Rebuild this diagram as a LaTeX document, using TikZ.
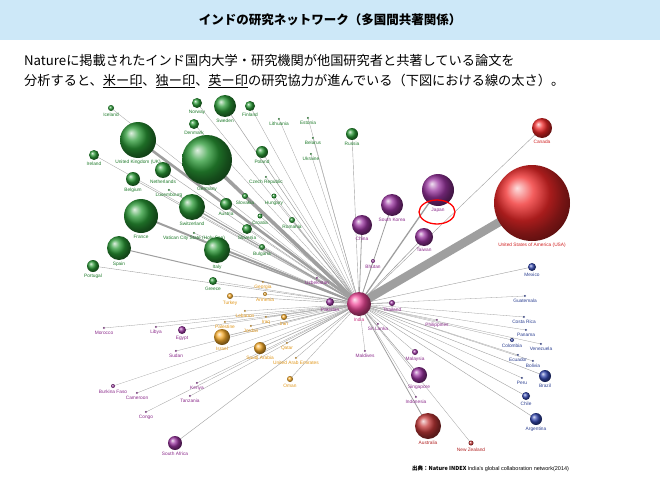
\documentclass[tikz,border=0pt]{standalone}
\usepackage{fontspec}
\setmainfont{Noto Sans CJK JP}
\newfontfamily\lab{Liberation Sans}
\definecolor{G}{HTML}{2A9A36}\definecolor{GT}{HTML}{1E7A2A}
\definecolor{O}{HTML}{F8AC2A}\definecolor{OT}{HTML}{E0961A}
\definecolor{P}{HTML}{9A34A0}\definecolor{PT}{HTML}{8A2A8A}
\definecolor{B}{HTML}{3448B0}\definecolor{BT}{HTML}{2A3E90}
\definecolor{R}{HTML}{F02828}\definecolor{RT}{HTML}{D02020}
\definecolor{A}{HTML}{C43838}\definecolor{AT}{HTML}{B02020}
\definecolor{K}{HTML}{F04898}\definecolor{KT}{HTML}{C83080}
\definecolor{band}{HTML}{CDE8F8}
\tikzset{edge/.style={draw=gray!75},
 ctylabel/.style={font=\lab\fontsize{4.8}{5.5}\selectfont,inner sep=0.3pt,anchor=north}}
\begin{document}
\begin{tikzpicture}[x=1pt,y=-1pt]
\useasboundingbox (0,0) rectangle (660,492);
\fill[band] (0,0) rectangle (660,40);
\node[font=\fontsize{12.5}{14}\selectfont\bfseries] (title) at (330,20) {インドの研究ネットワーク（多国間共著関係）};
\node[anchor=west,align=left,inner sep=0,font=\fontsize{13.2}{20}\selectfont] (body) at (24,71) {Natureに掲載されたインド国内大学・研究機関が他国研究者と共著している論文を\\分析すると、\underline{米ー印}、\underline{独ー印}、\underline{英ー印}の研究協力が進んでいる（下図における線の太さ）。};
\coordinate (india) at (359,304);
\foreach [count=\i] \x/\y/\r/\c/\t/\w in {
111/108/3/G/Iceland/0.3, 197/103/5/G/Norway/0.3, 225/106/11/G/Sweden/0.5, 250/106/5/G/Finland/0.3,
194/124/5/G/Denmark/0.3, 138/140/18/G/United Kingdom (UK)/2.6, 207/160/25/G/Germany/3.6,
94/155/5/G/Ireland/0.3, 163/170/8/G/Netherlands/0.4, 133/179/7/G/Belgium/0.4, 169/190/1.2/G/Luxembourg/0.3,
192/207/13/G/Switzerland/1.2, 226/204/6/G/Austria/0.4, 245/196/3/G/Slovakia/0.3, 266/177/1.2/G/Czech Republic/0.3,
274/196/2.5/G/Hungary/0.3, 260/216/2.5/G/Croatia/0.3, 292/220/3/G/Romania/0.3, 247/229/5/G/Slovenia/0.3,
262/152/6/G/Poland/0.3, 279/119/1.2/G/Lithuania/0.3, 308/118/1.2/G/Estonia/0.3, 313/138/1.2/G/Belarus/0.3,
311/154/1.2/G/Ukraine/0.3, 352/134/6/G/Russia/0.4, 141/216/17/G/France/2, 194/233/1.2/G/Vatican City State (Holy See)/0.3,
217/250/13/G/Italy/1.3, 262/247/3/G/Bulgaria/0.3, 119/248/12/G/Spain/1, 93/266/6/G/Portugal/0.4, 213/281/4/G/Greece/0.3,
263/282/1.2/O/Georgia/0.3, 265/294/2/O/Armenia/0.3, 230/296/3/O/Turkey/0.4, 245/311/1.2/O/Lebanon/0.3,
266/317/1.2/O/Iraq/0.3, 284/317/3/O/Iran/0.4, 225/322/1.2/O/Palestine/0.3, 251/326/1.2/O/Jordan/0.3,
222/337/8/O/Israel/0.5, 260/348/6/O/Saudi Arabia/0.5, 287/343/1.2/O/Qatar/0.3, 296/358/1.2/O/United Arab Emirates/0.3,
290/379/3/O/Oman/0.3,
104/328/1.2/P/Morocco/0.3, 156/327/1.2/P/Libya/0.3, 182/330/4/P/Egypt/0.3, 176/351/1.2/P/Sudan/0.3,
113/386/2/P/Burkina Faso/0.3, 137/393/1.2/P/Cameroon/0.3, 197/383/1.2/P/Kenya/0.3, 190/396/1.2/P/Tanzania/0.3,
146/412/1.2/P/Congo/0.3, 175/443/7/P/South Africa/0.4, 330/302/4/P/Pakistan/0.4, 317/278/1.2/P/Uzbekistan/0.3,
373/261/2/P/Bhutan/0.3, 362/225/10/P/China/0.8, 392/205/11/P/South Korea/0.8, 438/190/16/P/Japan/1.3,
424/237/9/P/Taiwan/0.6, 392/303/3/P/Thailand/0.4, 378/324/1.2/P/Sri Lanka/0.3, 365/351/1.2/P/Maldives/0.3,
437/320/1.2/P/Philippines/0.3, 415/352/3/P/Malaysia/0.3, 419/375/8/P/Singapore/0.5, 416/397/1.2/P/Indonesia/0.3,
428/426/13/A/Australia/0.8, 471/443/2.5/A/New Zealand/0.3,
532/267/4/B/Mexico/0.4, 525/296/1.2/B/Guatemala/0.3, 524/317/1.2/B/Costa Rica/0.3, 526/330/1.2/B/Panama/0.3,
512/340/2/B/Colombia/0.3, 541/344/1.2/B/Venezuela/0.3, 518/355/1.2/B/Ecuador/0.3, 533/361/1.2/B/Bolivia/0.3,
522/378/1.2/B/Peru/0.3, 545/376/6/B/Brazil/0.4, 526/396/4/B/Chile/0.4, 536/419/6/B/Argentina/0.4,
542/128/10/R/Canada/0.4, 532/203/38/R/United States of America (USA)/8.5}
{
 \coordinate (c\i) at (\x,\y);
 \draw[edge,line width=\w pt] (india) -- (c\i);
 \node[circle,inner sep=0,minimum size=2*\r pt] (b\i) at (c\i) {};
}
\foreach [count=\i] \r/\c/\t in {
3/G/Iceland, 5/G/Norway, 11/G/Sweden, 5/G/Finland,
5/G/Denmark, 18/G/United Kingdom (UK), 25/G/Germany,
5/G/Ireland, 8/G/Netherlands, 7/G/Belgium, 1.2/G/Luxembourg,
13/G/Switzerland, 6/G/Austria, 3/G/Slovakia, 1.2/G/Czech Republic,
2.5/G/Hungary, 2.5/G/Croatia, 3/G/Romania, 5/G/Slovenia,
6/G/Poland, 1.2/G/Lithuania, 1.2/G/Estonia, 1.2/G/Belarus,
1.2/G/Ukraine, 6/G/Russia, 17/G/France, 1.2/G/Vatican City State (Holy See),
13/G/Italy, 3/G/Bulgaria, 12/G/Spain, 6/G/Portugal, 4/G/Greece,
1.2/O/Georgia, 2/O/Armenia, 3/O/Turkey, 1.2/O/Lebanon,
1.2/O/Iraq, 3/O/Iran, 1.2/O/Palestine, 1.2/O/Jordan,
8/O/Israel, 6/O/Saudi Arabia, 1.2/O/Qatar, 1.2/O/United Arab Emirates,
3/O/Oman,
1.2/P/Morocco, 1.2/P/Libya, 4/P/Egypt, 1.2/P/Sudan,
2/P/Burkina Faso, 1.2/P/Cameroon, 1.2/P/Kenya, 1.2/P/Tanzania,
1.2/P/Congo, 7/P/South Africa, 4/P/Pakistan, 1.2/P/Uzbekistan,
2/P/Bhutan, 10/P/China, 11/P/South Korea, 16/P/Japan,
9/P/Taiwan, 3/P/Thailand, 1.2/P/Sri Lanka, 1.2/P/Maldives,
1.2/P/Philippines, 3/P/Malaysia, 8/P/Singapore, 1.2/P/Indonesia,
13/A/Australia, 2.5/A/New Zealand,
4/B/Mexico, 1.2/B/Guatemala, 1.2/B/Costa Rica, 1.2/B/Panama,
2/B/Colombia, 1.2/B/Venezuela, 1.2/B/Ecuador, 1.2/B/Bolivia,
1.2/B/Peru, 6/B/Brazil, 4/B/Chile, 6/B/Argentina,
10/R/Canada, 38/R/United States of America (USA)}
{
 \shade[ball color=\c] (c\i) circle (\r pt);
 \node[ctylabel,text=\c T] (t\i) at ([yshift=-1.5pt]b\i.south) {\t};
}
\node[circle,inner sep=0,minimum size=24pt,shading=ball,ball color=K] (indiaball) at (india) {};
\node[ctylabel,text=KT] (indialabel) at ([yshift=-1.5pt]indiaball.south) {India};
\draw[red,line width=1.3pt] (437,212) ellipse (18pt and 12pt);
\node[anchor=west,inner sep=0] (src) at (412,469) {\fontsize{5.5}{6}\selectfont\textbf{出典：Nature INDEX} {\lab India's global collaboration network(2014)}};
\end{tikzpicture}
\end{document}
